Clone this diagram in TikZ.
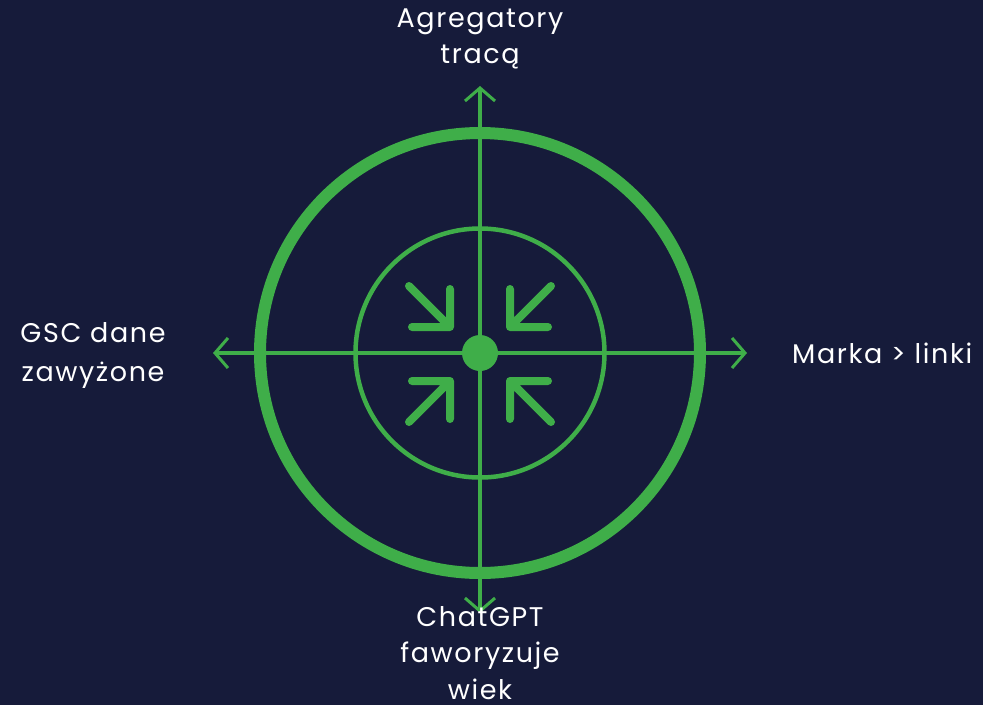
\documentclass[tikz,border=0pt]{standalone}
\usepackage{fontspec}
\setmainfont{Poppins}[LetterSpace=6]
\usetikzlibrary{arrows.meta}
\definecolor{bgnavy}{HTML}{161B3A}
\definecolor{radargreen}{HTML}{3FAE49}
\begin{document}
\begin{tikzpicture}[x=1pt,y=-1pt,
  axis/.style={draw=radargreen,line width=4pt,-{Straight Barb[length=13pt,width=30pt,line width=3pt]}},
  inarrow/.style={draw=radargreen,line width=8pt,line cap=round,line join=round},
  lbl/.style={text=white,align=center,inner sep=0pt,font=\fontsize{27}{36.7}\selectfont}]
\fill[bgnavy] (0,0) rectangle (983,705);
\useasboundingbox (0,0) rectangle (983,705);
\coordinate (c) at (480,353);
\coordinate (ntip) at (480,86);
\coordinate (stip) at (480,613);
\coordinate (wtip) at (213,353);
\coordinate (etip) at (747,353);
% circles
\draw[radargreen,line width=12pt] (c) circle[radius=220];
\draw[radargreen,line width=4.5pt] (c) circle[radius=124.5];
% axes
\draw[axis] (c) -- (ntip);
\draw[axis] (c) -- (stip);
\draw[axis] (c) -- (wtip);
\draw[axis] (c) -- (etip);
\fill[radargreen] (c) circle[radius=18];
% inward arrows
\draw[inarrow] (409,286) -- (450,327) (450,289) -- (450,327) -- (412,327);
\draw[inarrow] (551,286) -- (510,327) (510,289) -- (510,327) -- (548,327);
\draw[inarrow] (409,422) -- (450,381) (450,419) -- (450,381) -- (412,381);
\draw[inarrow] (551,422) -- (510,381) (510,419) -- (510,381) -- (548,381);
% labels
\node[lbl] (top) at (480,39) {Agregatory\\tracą};
\node[lbl] (bottom) at (480,653) {ChatGPT\\faworyzuje\\wiek};
\node[lbl,font=\fontsize{27}{39}\selectfont] (left) at (93,355) {GSC dane\\zawyżone};
\node[lbl,anchor=base west] (right) at (792,363) {Marka > linki};
\end{tikzpicture}
\end{document}
